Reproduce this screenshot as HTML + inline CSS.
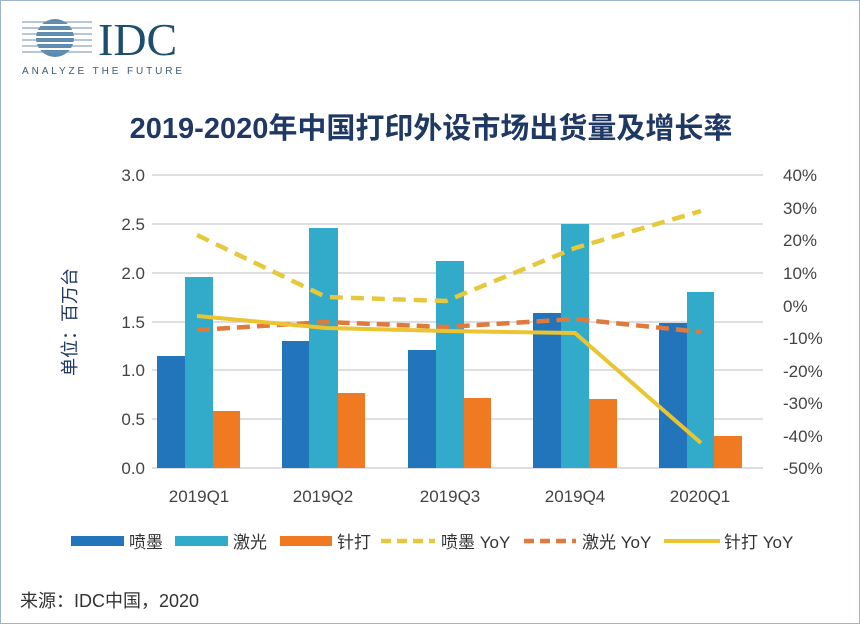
<!DOCTYPE html>
<html><head><meta charset="utf-8"><style>
body{margin:0;background:#fff;}
svg{display:block;font-family:"Liberation Sans","Noto Sans CJK SC",sans-serif;}
</style></head><body>
<svg width="860" height="624" viewBox="0 0 860 624">
<rect x="0" y="0" width="860" height="624" fill="#fff"/>
<rect x="0.5" y="0.5" width="859" height="623" fill="none" stroke="#9fb4c8" stroke-width="1"/>
<!-- logo -->
<g>
<circle cx="55" cy="38" r="19" fill="#5a8bb5"/>
<g stroke="#fff" stroke-width="2">
<line x1="30" y1="25" x2="80" y2="25"/><line x1="30" y1="31" x2="80" y2="31"/><line x1="30" y1="37" x2="80" y2="37"/><line x1="30" y1="43" x2="80" y2="43"/><line x1="30" y1="49" x2="80" y2="49"/>
</g>
<g stroke="#6f8fa8" stroke-width="1"><line x1="22" y1="22" x2="92" y2="22"/><line x1="22" y1="28" x2="92" y2="28"/><line x1="22" y1="34" x2="92" y2="34"/><line x1="22" y1="40" x2="92" y2="40"/><line x1="22" y1="46" x2="92" y2="46"/><line x1="22" y1="52" x2="92" y2="52"/></g>
<text x="98" y="55" font-family="Liberation Serif,serif" font-size="46" fill="#1e4e6e">IDC</text>
<text x="22" y="74" font-size="10" letter-spacing="2.9" fill="#3e5a70">ANALYZE THE FUTURE</text>
</g>
<text x="431" y="138" text-anchor="middle" font-size="29" font-weight="bold" fill="#1f3864">2019-2020年中国打印外设市场出货量及增长率</text>
<!-- grid -->
<g stroke="#c9c9d1" stroke-width="1.2">
<line x1="152" y1="175" x2="763" y2="175"/><line x1="152" y1="224" x2="763" y2="224"/><line x1="152" y1="273" x2="763" y2="273"/><line x1="152" y1="322" x2="763" y2="322"/><line x1="152" y1="370" x2="763" y2="370"/><line x1="152" y1="419" x2="763" y2="419"/><line x1="152" y1="468" x2="763" y2="468"/>
</g>
<g font-size="17" fill="#444" text-anchor="end">
<text x="145" y="181">3.0</text><text x="145" y="230">2.5</text><text x="145" y="279">2.0</text><text x="145" y="328">1.5</text><text x="145" y="376">1.0</text><text x="145" y="425">0.5</text><text x="145" y="474">0.0</text>
</g>
<g font-size="17" fill="#444">
<text x="783" y="181">40%</text><text x="783" y="214">30%</text><text x="783" y="246">20%</text><text x="783" y="279">10%</text><text x="783" y="312">0%</text><text x="783" y="344">-10%</text><text x="783" y="377">-20%</text><text x="783" y="409">-30%</text><text x="783" y="442">-40%</text><text x="783" y="474">-50%</text>
</g>
<text transform="translate(76,322) rotate(-90)" text-anchor="middle" font-size="18" fill="#1f3864">单位：百万台</text>
<!-- bars -->
<g fill="#2274bb">
<rect x="157" y="356" width="28" height="112"/><rect x="282" y="341" width="27" height="127"/><rect x="408" y="350" width="28" height="118"/><rect x="533" y="313" width="28" height="155"/><rect x="659" y="323" width="28" height="145"/>
</g>
<g fill="#32abcb">
<rect x="185" y="277" width="28" height="191"/><rect x="309" y="228" width="29" height="240"/><rect x="436" y="261" width="28" height="207"/><rect x="561" y="224" width="28" height="244"/><rect x="687" y="292" width="27" height="176"/>
</g>
<g fill="#f07a22">
<rect x="213" y="411" width="27" height="57"/><rect x="338" y="393" width="27" height="75"/><rect x="464" y="398" width="27" height="70"/><rect x="589" y="399" width="28" height="69"/><rect x="714" y="436" width="28" height="32"/>
</g>
<!-- lines -->
<polyline points="197,235 326,297 446,301 575,248 701,211" fill="none" stroke="#e6c83c" stroke-width="4.5" stroke-dasharray="13,8"/>
<polyline points="197,330 326,322 446,327 575,319 701,332" fill="none" stroke="#e07a3c" stroke-width="4.5" stroke-dasharray="13,7"/>
<polyline points="197,316 326,328 446,331 575,333 701,443" fill="none" stroke="#ebc431" stroke-width="4"/>
<g font-size="17" fill="#444" text-anchor="middle">
<text x="199" y="502">2019Q1</text><text x="323" y="502">2019Q2</text><text x="450" y="502">2019Q3</text><text x="575" y="502">2019Q4</text><text x="700" y="502">2020Q1</text>
</g>
<!-- legend -->
<g font-size="17" fill="#333">
<rect x="71" y="536" width="53" height="10" fill="#2274bb"/><text x="129" y="548">喷墨</text>
<rect x="175" y="536" width="53" height="10" fill="#32abcb"/><text x="233" y="548">激光</text>
<rect x="280" y="536" width="52" height="10" fill="#f07a22"/><text x="337" y="548">针打</text>
<line x1="381" y1="541" x2="435" y2="541" stroke="#e6c83c" stroke-width="4.5" stroke-dasharray="10,6"/><text x="441" y="548">喷墨 YoY</text>
<line x1="524" y1="541" x2="576" y2="541" stroke="#e07a3c" stroke-width="4.5" stroke-dasharray="10,6"/><text x="582" y="548">激光 YoY</text>
<line x1="664" y1="541" x2="720" y2="541" stroke="#ebc431" stroke-width="4"/><text x="724" y="548">针打 YoY</text>
</g>
<text x="20" y="607" font-size="18" fill="#333">来源：IDC中国，2020</text>
</svg>
</body></html>
